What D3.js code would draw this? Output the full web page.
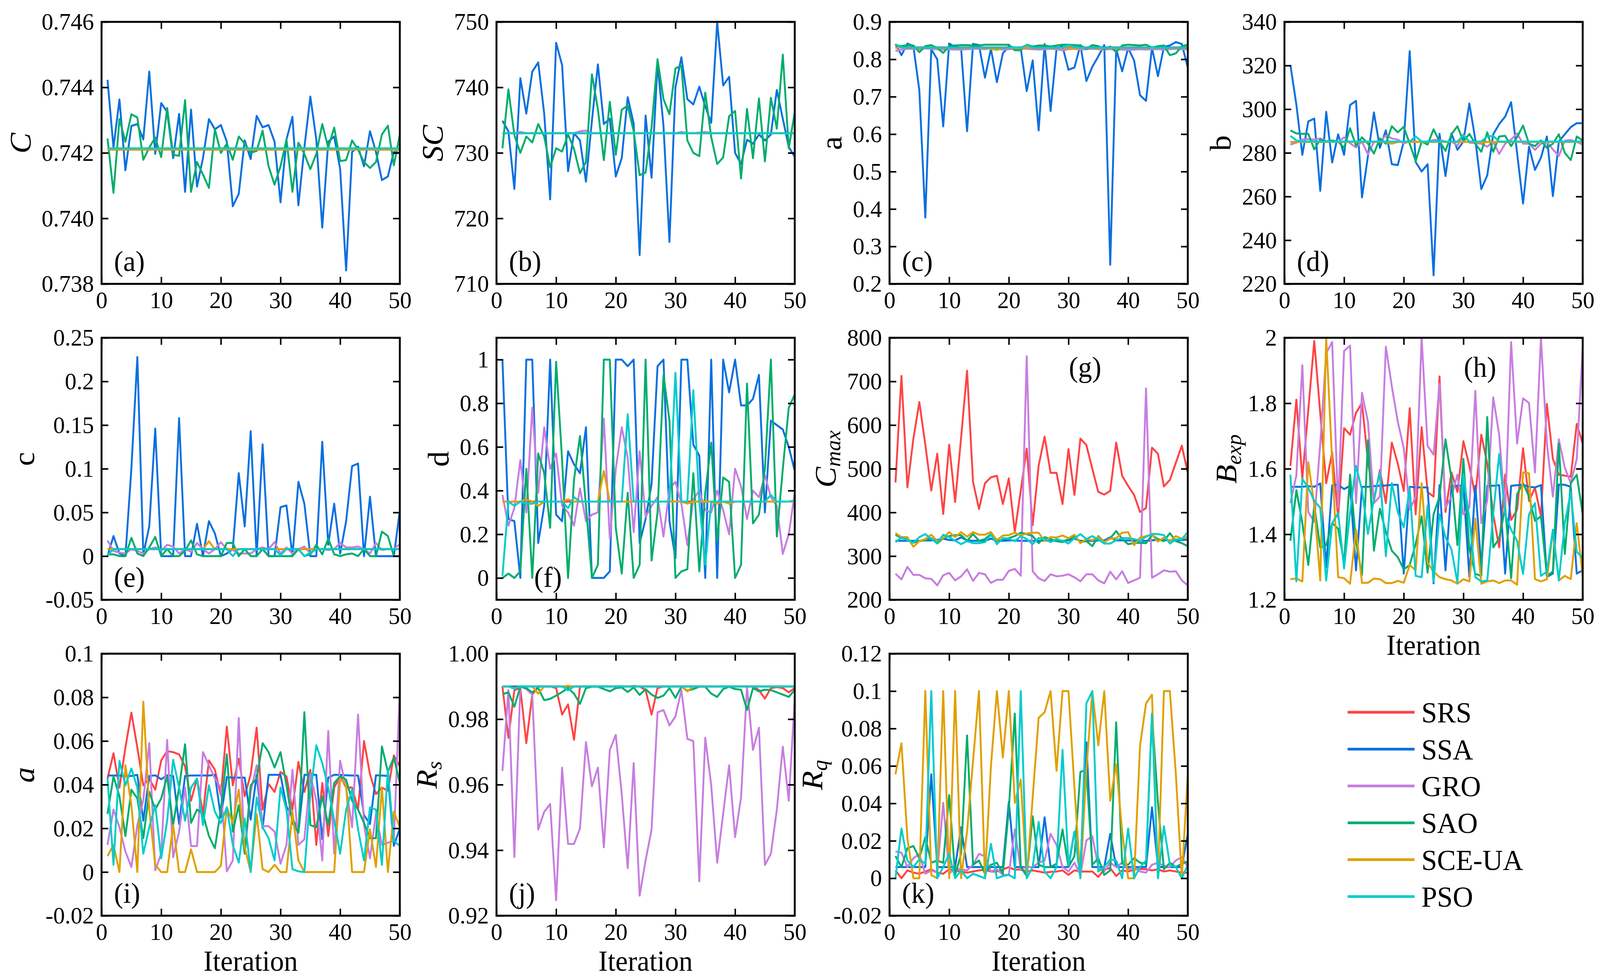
<!DOCTYPE html>
<html lang="en">
<head>
<meta charset="utf-8">
<title>Parameter values over iterations</title>
<script src="https://cdn.jsdelivr.net/npm/d3@7/dist/d3.min.js"></script>
<style>
  html, body { margin: 0; padding: 0; background: #fff; overflow: hidden; width: 100%; height: 100%; }
  #chart { width: 100vw; height: 100vh; }
  svg { display: block; width: 100%; height: 100%; font-family: "Liberation Serif", "Times New Roman", serif; }
</style>
</head>
<body>
<div id="chart"></div>
<script>
// series in legend order
var algorithms = ["SRS", "SSA", "GRO", "SAO", "SCE-UA", "PSO"];
var colors = ["#ff4444", "#0a70e0", "#c77ee0", "#00ad6b", "#e0a000", "#00cccc"];
var iterations = [1,2,3,4,5,6,7,8,9,10,11,12,13,14,15,16,17,18,19,20,21,22,23,24,25,
                  26,27,28,29,30,31,32,33,34,35,36,37,38,39,40,41,42,43,44,45,46,47,48,49,50];
var xTicks = [0, 10, 20, 30, 40, 50];
var xTickLabels = ["0", "10", "20", "30", "40", "50"];

// (a) C
var valsA = [
  [0.7421,0.7421,0.7421,0.7421,0.7421,0.7421,0.7421,0.7421,0.7421,0.7421,
   0.7421,0.7421,0.7421,0.7421,0.7421,0.7421,0.7421,0.7421,0.7421,0.7421,
   0.7421,0.7421,0.7421,0.7421,0.7421,0.7421,0.7421,0.7421,0.7421,0.7421,
   0.7421,0.7421,0.7421,0.7421,0.7421,0.7421,0.7421,0.7421,0.7421,0.7421,
   0.7421,0.7421,0.7421,0.7421,0.7421,0.7421,0.7421,0.7421,0.7421,0.7421],
  [0.74423,0.74216,0.74363,0.74147,0.74282,0.74288,0.74241,0.74448,0.74197,0.74352,
   0.74325,0.74184,0.74319,0.74081,0.74332,0.74097,0.74184,0.74303,0.74272,0.74285,
   0.74234,0.74037,0.74075,0.74238,0.74181,0.74313,0.74278,0.74285,0.74234,0.74049,
   0.74241,0.74310,0.74040,0.74216,0.74372,0.74241,0.73972,0.74234,0.74250,0.74150,
   0.73841,0.74203,0.74219,0.74159,0.74266,0.74203,0.74117,0.74128,0.74203,0.74200],
  [0.7421,0.7421,0.7421,0.7421,0.7421,0.7421,0.7421,0.7421,0.7421,0.7421,
   0.7421,0.7421,0.7421,0.7421,0.7421,0.7421,0.7421,0.7421,0.7421,0.7421,
   0.7421,0.7421,0.7421,0.7421,0.7421,0.7421,0.7421,0.7421,0.7421,0.7421,
   0.7421,0.7421,0.7421,0.7421,0.7421,0.7421,0.7421,0.7421,0.7421,0.7421,
   0.7421,0.7421,0.7421,0.7421,0.7421,0.7421,0.7421,0.7421,0.7421,0.7421],
  [0.74244,0.74078,0.74303,0.74234,0.74318,0.74308,0.74179,0.74216,0.74247,0.74187,
   0.74337,0.74194,0.74191,0.74361,0.74081,0.74172,0.74134,0.74093,0.74272,0.74200,
   0.74228,0.74179,0.74250,0.74228,0.74200,0.74206,0.74268,0.74159,0.74103,0.74159,
   0.74241,0.74081,0.74231,0.74197,0.74150,0.74197,0.74288,0.74216,0.74277,0.74175,
   0.74178,0.74238,0.74209,0.74172,0.74154,0.74172,0.74256,0.74283,0.74162,0.74256],
  [0.7421,0.7421,0.7421,0.7421,0.7421,0.7421,0.7421,0.7421,0.7421,0.7421,
   0.7421,0.7421,0.7421,0.7421,0.7421,0.7421,0.7421,0.7421,0.7421,0.7421,
   0.7421,0.7421,0.7421,0.7421,0.7421,0.7421,0.7421,0.7421,0.7421,0.7421,
   0.7421,0.7421,0.7421,0.7421,0.7421,0.7421,0.7421,0.7421,0.7421,0.7421,
   0.7421,0.7421,0.7421,0.7421,0.7421,0.7421,0.7421,0.7421,0.7421,0.7421],
  [0.74214,0.74214,0.74214,0.74214,0.74214,0.74214,0.74214,0.74214,0.74214,0.74214,
   0.74214,0.74214,0.74214,0.74214,0.74214,0.74214,0.74214,0.74214,0.74214,0.74214,
   0.74214,0.74214,0.74214,0.74214,0.74214,0.74214,0.74214,0.74214,0.74214,0.74214,
   0.74214,0.74214,0.74214,0.74214,0.74214,0.74214,0.74214,0.74214,0.74214,0.74214,
   0.74214,0.74214,0.74214,0.74214,0.74214,0.74214,0.74214,0.74214,0.74214,0.74214]
];
var ticksA = [0.738, 0.740, 0.742, 0.744, 0.746];
var labelsA = ["0.738", "0.740", "0.742", "0.744", "0.746"];

// (b) SC
var valsB = [
  [733,733,733,733,733,733,733,733,733,733, 733,733,733,733,733,733,733,733,733,733,
   733,733,733,733,733,733,733,733,733,733, 733,733,733,733,733,733,733,733,733,733,
   733,733,733,733,733,733,733,733,733,733],
  [734.9,733.3,724.5,741.4,736.0,742.4,743.8,736.0,722.9,746.8,
   743.4,727.2,733.0,731.9,725.6,734.9,743.5,734.4,735.2,726.4,
   729.2,738.5,734.5,714.4,735.7,726.2,743.6,734.1,716.4,740.0,
   744.6,738.2,737.4,740.1,737.1,734.6,750.0,740.3,741.6,730.0,
   728.3,732.0,731.4,732.8,731.9,732.8,739.6,735.2,730.9,729.4],
  [733,733,733,733.2,733,733,733,733,733,733, 733,733,733,733.3,733.4,733,733,733,733,733,
   733,733,733,733,733,733,733,733,733,733, 733.2,733,733,733.1,733.2,733,733,733,733,733,
   733,733,733,733,733,733,733,733,733,733],
  [730.7,739.7,732.7,730.0,732.5,731.6,734.4,732.5,727.8,730.7,
   730.2,732.8,730.6,726.9,728.6,742.0,736.7,728.9,737.8,729.7,
   736.6,737.2,733.3,726.6,727.0,733.9,744.3,738.2,735.9,742.9,
   743.3,731.9,730.0,729.5,739.2,732.4,728.3,729.3,735.6,736.4,
   726.1,736.7,729.2,738.3,728.7,738.4,733.7,745.0,730.7,736.2],
  [733,733,733,733,733,733,733,733,733,733, 733,733,733,733,733,733,733,733,733,733,
   733,733,733,733,733,733,733,733,733,733, 733,733,733,733,733,733,733,733,733,733,
   733,733,733,733,733,733,733,733,733,733],
  [733,733,733,733,733,733,733,733,733,733, 733,733,733,733,733,733,733,733,733,733,
   733,733,733,733,733,733,733,733,733,733, 733,733,733,733,733,733,733,733,733,733,
   733,733,733,733,733,733,733,733,733,733]
];
var ticksB = [710, 720, 730, 740, 750];
var labelsB = ["710", "720", "730", "740", "750"];

// (c) a
var valsC = [
  [0.832,0.832,0.832,0.832,0.832,0.832,0.832,0.832,0.832,0.832,
   0.832,0.832,0.832,0.832,0.832,0.832,0.832,0.832,0.832,0.832,
   0.832,0.832,0.832,0.832,0.832,0.832,0.832,0.832,0.832,0.832,
   0.832,0.832,0.832,0.832,0.832,0.832,0.832,0.832,0.832,0.832,
   0.832,0.832,0.832,0.832,0.832,0.832,0.832,0.832,0.832,0.832],
  [0.841,0.811,0.842,0.835,0.717,0.377,0.827,0.800,0.621,0.842,
   0.833,0.830,0.608,0.841,0.838,0.751,0.828,0.739,0.816,0.835,
   0.831,0.830,0.715,0.797,0.610,0.841,0.662,0.828,0.835,0.772,
   0.778,0.838,0.742,0.780,0.808,0.838,0.251,0.827,0.768,0.830,
   0.797,0.704,0.689,0.831,0.755,0.833,0.837,0.846,0.841,0.778],
  [0.822,0.826,0.828,0.828,0.827,0.829,0.828,0.827,0.826,0.827,
   0.826,0.826,0.827,0.828,0.828,0.827,0.829,0.828,0.826,0.827,
   0.828,0.829,0.828,0.827,0.826,0.827,0.828,0.827,0.824,0.827,
   0.828,0.826,0.827,0.828,0.827,0.826,0.827,0.827,0.826,0.825,
   0.826,0.827,0.826,0.827,0.827,0.826,0.827,0.828,0.827,0.827],
  [0.838,0.835,0.838,0.837,0.819,0.835,0.838,0.830,0.817,0.835,
   0.837,0.838,0.838,0.837,0.837,0.839,0.839,0.839,0.839,0.839,
   0.824,0.824,0.839,0.834,0.837,0.837,0.834,0.837,0.839,0.839,
   0.838,0.837,0.828,0.838,0.835,0.827,0.834,0.819,0.837,0.839,
   0.838,0.837,0.839,0.831,0.835,0.837,0.811,0.816,0.835,0.839],
  [0.830,0.832,0.831,0.830,0.830,0.831,0.832,0.830,0.830,0.831,
   0.830,0.830,0.830,0.831,0.830,0.830,0.828,0.825,0.830,0.831,
   0.830,0.830,0.831,0.830,0.830,0.831,0.830,0.830,0.830,0.830,
   0.829,0.830,0.831,0.830,0.829,0.830,0.830,0.830,0.830,0.830,
   0.831,0.830,0.830,0.830,0.830,0.831,0.830,0.830,0.830,0.830],
  [0.840,0.832,0.831,0.831,0.831,0.831,0.831,0.831,0.831,0.831,
   0.831,0.831,0.831,0.831,0.831,0.831,0.831,0.831,0.831,0.831,
   0.832,0.831,0.838,0.831,0.831,0.831,0.831,0.831,0.831,0.838,
   0.833,0.831,0.831,0.831,0.831,0.831,0.831,0.831,0.831,0.831,
   0.831,0.831,0.831,0.831,0.831,0.831,0.831,0.831,0.831,0.831]
];
var ticksC = [0.2, 0.3, 0.4, 0.5, 0.6, 0.7, 0.8, 0.9];
var labelsC = ["0.2", "0.3", "0.4", "0.5", "0.6", "0.7", "0.8", "0.9"];

// (d) b
var valsD = [
  [285,285,285,285,285,285,285,285,285,285, 285,285,285,285,285,285,285,285,285,285,
   285,285,285,285,285,285,285,285,285,285, 285,285,285,285,285,285,285,285,285,285,
   285,285,285,285,285,285,285,285,285,285],
  [320.2,302.1,279.1,294.4,295.7,262.6,298.8,275.6,288.5,279.1,
   301.9,303.8,259.6,278.6,298.5,282.3,290.3,274.8,274.4,285.2,
   326.6,275.8,271.5,274.8,223.9,288.7,269.4,288.9,281.4,285.2,
   302.6,286.1,263.4,269.7,288.5,293.2,296.6,303.2,280.0,256.8,
   282.8,272.2,277.8,287.5,260.2,285.2,288.5,291.8,293.6,293.6],
  [283.8,284.7,286.1,286.3,286.1,286.6,285.4,285.2,285.0,287.1,
   284.4,282.5,285.2,279.3,285.0,285.2,288.0,286.6,286.1,284.2,
   285.4,285.2,285.0,285.2,285.9,285.9,285.2,285.2,283.3,288.5,
   284.7,284.4,284.2,282.8,285.2,279.5,284.2,286.1,288.9,284.2,
   284.2,281.4,284.2,285.0,281.6,278.6,285.6,285.9,285.0,283.8],
  [290.3,288.9,288.7,288.7,281.6,286.1,285.2,285.7,285.2,282.3,
   291.3,283.3,287.1,284.2,279.7,286.6,284.2,292.2,289.4,291.9,
   284.2,276.2,285.2,283.8,290.8,285.2,280.9,288.5,292.2,285.2,
   288.7,284.2,280.5,289.4,280.5,287.5,287.8,283.1,287.2,292.5,
   284.2,283.1,285.7,282.3,284.2,288.5,280.0,276.7,287.5,285.7],
  [285,285,285,285,285,285,285,285,285,285, 285,285,285,285,285,285,285,284.2,285,285,
   285,285,285,285,285,285,285,285,285,285, 285,285,284.6,285,285,285,285,285,285,285,
   285,285,285,285,285,285,285,285,285,285],
  [287.8,285.7,285.2,285.2,285.2,285.2,285.2,285.2,285.2,285.2,
   285.2,285.2,285.2,285.2,285.2,285.2,285.2,285.2,285.2,285.2,
   285.2,287.5,285.2,285.2,285.2,285.2,285.2,285.2,285.2,288.0,
   285.2,285.2,285.2,287.5,287.8,285.2,285.2,285.2,285.2,285.2,
   285.2,285.2,285.2,285.2,285.2,285.2,285.2,285.2,285.2,285.2]
];
var ticksD = [220, 240, 260, 280, 300, 320, 340];
var labelsD = ["220", "240", "260", "280", "300", "320", "340"];

// (e) c
var valsE = [
  [0.008,0.008,0.008,0.008,0.008,0.008,0.008,0.008,0.008,0.008,
   0.008,0.008,0.008,0.008,0.008,0.008,0.008,0.008,0.008,0.008,
   0.008,0.008,0.008,0.008,0.008,0.008,0.008,0.008,0.008,0.008,
   0.008,0.008,0.008,0.008,0.008,0.008,0.008,0.008,0.008,0.008,
   0.008,0.008,0.008,0.008,0.008,0.008,0.008,0.008,0.008,0.008],
  [0,0.023,0.003,0,0.100,0.228,0.002,0.034,0.146,0,
   0,0,0.158,0,0,0.037,0,0.040,0.026,0,
   0.003,0.008,0.095,0.034,0.143,0,0.128,0,0,0.056,
   0.058,0,0.085,0.060,0,0,0.131,0.013,0.060,0.003,
   0.040,0.103,0.106,0,0.068,0,0,0,0,0.052],
  [0.018,0.006,0.004,0.003,0.008,0.006,0.003,0.008,0.010,0.006,
   0.013,0.011,0.003,0.008,0.005,0.015,0.008,0.003,0.008,0.016,
   0.008,0.007,0.003,0.003,0.003,0.008,0.010,0.008,0.016,0.003,
   0.010,0.003,0.008,0.011,0.003,0.008,0.008,0.007,0.008,0.015,
   0.010,0.010,0.011,0.008,0.003,0.015,0.007,0.008,0.008,0.014],
  [0.002,0.002,0,0,0.021,0.003,0,0.010,0.022,0,
   0.008,0,0,0.006,0.018,0.002,0,0,0,0,
   0.015,0.015,0,0.008,0,0,0.008,0,0,0,
   0,0,0.008,0,0.002,0.013,0.002,0.020,0.002,0,
   0.002,0.003,0,0.008,0,0,0.028,0.023,0,0],
  [0.008,0.008,0.008,0.008,0.008,0.008,0.008,0.008,0.008,0.008,
   0.008,0.008,0.008,0.008,0.008,0.008,0.008,0.017,0.008,0.008,
   0.008,0.008,0.008,0.008,0.008,0.008,0.008,0.008,0.008,0.008,
   0.008,0.008,0.008,0.008,0.008,0.008,0.008,0.008,0.008,0.008,
   0.008,0.008,0.008,0.008,0.008,0.008,0.008,0.008,0.008,0.008],
  [0.001,0.008,0.008,0.008,0.008,0.008,0.008,0.008,0.008,0.008,
   0.008,0.008,0.008,0.008,0.008,0.008,0.008,0.008,0.008,0.008,
   0.008,0,0.008,0.008,0.008,0.008,0.008,0.008,0.008,0.001,
   0.008,0.008,0.008,0,0.004,0.008,0.008,0.008,0.008,0.008,
   0.008,0.008,0.008,0.008,0.008,0.008,0.008,0.008,0.008,0.008]
];
var ticksE = [-0.05, 0, 0.05, 0.1, 0.15, 0.2, 0.25];
var labelsE = ["-0.05", "0", "0.05", "0.1", "0.15", "0.2", "0.25"];

// (f) d
var valsF = [
  [0.35,0.35,0.35,0.35,0.35,0.35,0.35,0.35,0.35,0.35, 0.35,0.35,0.35,0.35,0.35,0.35,0.35,0.35,0.35,0.35,
   0.35,0.35,0.35,0.35,0.35,0.35,0.35,0.35,0.35,0.35, 0.35,0.35,0.35,0.35,0.35,0.35,0.35,0.35,0.35,0.35,
   0.35,0.35,0.35,0.35,0.35,0.35,0.35,0.35,0.35,0.35],
  [1,0.27,0.26,0,1,1,0.16,0.33,1,0.29,
   0.26,0.58,0.52,0.48,0.69,0,0,0,0.03,1,
   1,0.97,1,0.16,0.27,0.43,0.97,1,0.26,0.09,
   1,1,0.61,0.56,0,1,0,1,0.85,1,
   0.79,0.79,0.82,0.93,0.30,0.72,0.70,0.68,0.60,0.49],
  [0.38,0.24,0.32,0.54,0.30,0.78,0.39,0.69,0.50,0.57,
   0.33,0.30,0.24,0.41,0.26,0.29,0.30,0.73,0.18,0.50,
   0.69,0.55,0.21,0.58,0.28,0.33,0.37,0.19,0.41,0.44,
   0.34,0.15,0.36,0.40,0.31,0.30,0.40,0.31,0.20,0.50,
   0.42,0.27,0.40,0.37,0.47,0.37,0.33,0.11,0.20,0.39],
  [0,0.02,0,0.03,0.50,0,0.57,0.48,0.23,0.99,
   0.54,0,0.45,0.65,0.33,0,0.06,1,1,0.23,
   0.02,0.39,0,0.06,1,0.08,0.30,0.93,0.72,0,
   0.03,0.04,0.48,0.03,0.39,0.62,0.17,0.46,0.44,0,
   0.06,0.89,0.25,0.29,0.50,1,0.19,0.50,0.78,0.84],
  [0.35,0.35,0.35,0.35,0.36,0.35,0.33,0.35,0.35,0.35,
   0.35,0.36,0.35,0.35,0.35,0.35,0.35,0.49,0.35,0.35,
   0.35,0.35,0.35,0.35,0.35,0.35,0.35,0.35,0.35,0.35,
   0.35,0.34,0.35,0.35,0.35,0.35,0.34,0.35,0.34,0.35,
   0.35,0.35,0.35,0.35,0.35,0.35,0.35,0.35,0.35,0.35],
  [0.01,0.35,0.33,0.35,0.34,0.34,0.35,0.35,0.35,0.35,
   0.35,0.32,0.37,0.35,0.35,0.35,0.35,0.35,0.35,0.35,
   0.35,0.75,0.35,0.35,0.35,0.35,0.35,0.35,0.35,0.94,
   0.35,0.35,0.86,0.35,0.06,0.35,0.35,0.35,0.35,0.35,
   0.35,0.35,0.35,0.35,0.35,0.38,0.35,0.35,0.35,0.355]
];
var ticksF = [0, 0.2, 0.4, 0.6, 0.8, 1];
var labelsF = ["0", "0.2", "0.4", "0.6", "0.8", "1"];

// (g) Cmax
var valsG = [
  [468.7,712.6,457.6,569.0,652.7,555.2,450.3,534.5,396.4,555.2,
   424.0,571.3,724.5,470.0,407.9,466.8,480.6,483.9,419.4,477.9,
   355.0,450.0,546.0,371.0,506.9,573.6,490.7,490.7,419.4,545.1,
   440.1,569.0,554.3,500.0,447.0,441.0,449.3,559.8,483.9,460.8,
   440.1,401.0,410.2,548.3,534.5,459.5,474.6,513.8,552.9,490.7],
  [335,335,335,335,335,336,336,337,340,337,
   336,343,336,335,335,335,340,335,335,336,
   336,335,335,335,335,336,335,335,335,336,
   340,335,335,335,336,336,343,336,336,336,
   335,335,335,336,338,337,336,336,337,338],
  [259.7,246.8,275.4,257.0,257.0,249.2,247.8,233.0,256.1,261.6,
   244.5,253.7,269.8,243.2,261.6,258.4,238.6,245.9,245.9,266.2,
   270.8,255.1,757.7,265.3,249.2,243.2,258.4,253.7,255.1,258.4,
   251.4,242.3,258.4,258.4,244.5,237.6,264.3,246.8,265.3,238.6,
   244.5,250.5,684.0,250.5,258.4,267.5,264.3,265.3,244.5,233.0],
  [349.0,341.2,339.0,330.6,334.3,336.6,341.2,328.8,341.2,345.8,
   348.1,348.1,335.2,350.4,335.2,339.0,350.4,334.3,338.1,341.2,
   345.8,353.6,350.4,345.8,329.7,343.5,339.0,334.3,332.0,339.0,
   345.8,332.0,334.3,322.8,345.8,332.0,341.2,357.3,339.0,327.4,
   329.7,330.6,329.7,348.1,339.0,334.3,352.7,334.3,329.7,322.8],
  [352.7,343.5,343.5,321.4,334.3,339.0,349.0,334.3,341.2,355.0,
   343.5,355.0,344.4,355.0,349.0,349.0,355.0,336.6,347.2,348.1,
   353.6,347.2,351.8,353.6,353.6,334.3,343.5,342.6,347.2,341.2,
   349.0,329.7,339.0,336.6,343.5,332.0,339.9,341.2,353.6,355.0,
   325.1,342.6,345.8,349.0,333.4,342.6,334.3,345.8,339.9,344.4],
  [332.0,342.6,336.6,330.6,343.5,350.4,339.0,329.7,349.0,343.5,
   335.2,327.4,334.3,329.7,329.7,332.0,349.0,327.4,341.2,339.9,
   334.3,345.8,339.0,327.4,341.2,339.9,332.0,339.0,335.2,328.8,
   341.2,350.4,339.0,345.8,338.1,328.8,328.8,336.6,341.2,341.2,
   339.0,335.2,344.4,350.4,350.4,348.1,328.8,338.1,339.0,355.0]
];
var ticksG = [200, 300, 400, 500, 600, 700, 800];
var labelsG = ["200", "300", "400", "500", "600", "700", "800"];

// (h) Bexp
var valsH = [
  [1.609,1.811,1.569,1.780,1.990,1.770,1.556,1.650,1.450,1.724,
   1.704,1.771,1.801,1.623,1.502,1.596,1.495,1.680,1.616,1.532,
   1.785,1.461,1.727,1.529,1.515,1.882,1.468,1.589,1.529,1.684,
   1.609,1.515,1.704,1.616,1.461,1.360,1.582,1.444,1.475,1.663,
   1.502,1.542,1.455,1.798,1.630,1.582,1.579,1.576,1.737,1.677],
  [1.545,1.545,1.545,1.547,1.545,1.555,1.300,1.549,1.551,1.538,
   1.548,1.290,1.545,1.545,1.547,1.548,1.549,1.551,1.551,1.280,
   1.545,1.543,1.543,1.543,1.250,1.550,1.290,1.548,1.548,1.548,
   1.270,1.548,1.300,1.548,1.548,1.550,1.280,1.548,1.550,1.551,
   1.545,1.543,1.550,1.270,1.280,1.552,1.551,1.545,1.280,1.290],
  [1.495,1.580,1.916,1.468,1.438,1.677,1.953,1.987,1.481,1.960,
   1.976,1.495,1.832,1.744,1.495,1.515,1.973,1.852,1.744,1.663,
   1.475,1.515,2.000,1.670,1.643,1.859,1.481,1.515,1.582,1.461,
   1.481,1.838,1.434,1.502,1.818,1.704,1.468,1.987,1.677,1.815,
   1.801,1.589,2.000,1.677,1.515,1.690,1.603,1.556,1.630,1.973],
  [1.380,1.535,1.434,1.306,1.488,1.360,1.367,1.434,1.417,1.313,
   1.582,1.377,1.276,1.687,1.350,1.478,1.407,1.350,1.330,1.293,
   1.306,1.370,1.455,1.283,1.461,1.515,1.690,1.569,1.367,1.630,
   1.354,1.279,1.273,1.758,1.360,1.387,1.481,1.266,1.522,1.556,
   1.515,1.441,1.455,1.273,1.286,1.677,1.340,1.556,1.582,1.461],
  [1.263,1.265,1.256,1.620,1.488,1.259,2.000,1.623,1.269,1.266,
   1.249,1.414,1.252,1.252,1.265,1.263,1.251,1.251,1.258,1.252,
   1.306,1.290,1.556,1.313,1.286,1.269,1.263,1.259,1.249,1.263,
   1.256,1.448,1.249,1.256,1.259,1.251,1.259,1.259,1.246,1.589,
   1.586,1.263,1.256,1.263,1.407,1.259,1.273,1.263,1.434,1.273],
  [1.582,1.256,1.569,1.542,1.502,1.481,1.259,1.434,1.465,1.296,
   1.468,1.609,1.535,1.401,1.508,1.589,1.333,1.556,1.468,1.421,
   1.542,1.273,1.269,1.488,1.256,1.461,1.391,1.354,1.252,1.582,
   1.448,1.269,1.256,1.259,1.461,1.645,1.461,1.414,1.380,1.279,
   1.461,1.495,1.273,1.286,1.414,1.259,1.434,1.529,1.347,1.327]
];
var ticksH = [1.2, 1.4, 1.6, 1.8, 2];
var labelsH = ["1.2", "1.4", "1.6", "1.8", "2"];

// (i) a
var valsI = [
  [0.0428,0.0544,0.0387,0.0570,0.0730,0.0570,0.0397,0.0428,0.0377,0.0511,
   0.0554,0.0549,0.0539,0.0484,0.0327,0.0428,0.0266,0.0511,0.0468,0.0352,
   0.0666,0.0397,0.0519,0.0347,0.0448,0.0661,0.0286,0.0403,0.0367,0.0458,
   0.0438,0.0286,0.0504,0.0367,0.0468,0.0124,0.0408,0.0165,0.0387,0.0438,
   0.0387,0.0387,0.0286,0.0600,0.0448,0.0357,0.0387,0.0372,0.0534,0.0484],
  [0.0442,0.0442,0.0442,0.0440,0.0440,0.0445,0.0235,0.0440,0.0443,0.0425,
   0.0443,0.0440,0.0220,0.0440,0.0442,0.0442,0.0442,0.0442,0.0445,0.0250,
   0.0435,0.0432,0.0432,0.0432,0.0240,0.0445,0.0200,0.0445,0.0445,0.0445,
   0.0300,0.0250,0.0180,0.0445,0.0445,0.0445,0.0150,0.0432,0.0445,0.0445,
   0.0443,0.0442,0.0442,0.0260,0.0220,0.0443,0.0442,0.0440,0.0120,0.0200],
  [0.0124,0.0286,0.0205,0.0094,0.0023,0.0215,0.0330,0.0590,0.0008,0.0084,
   0.0605,0.0068,0.0185,0.0387,0.0119,0.0119,0.0549,0.0489,0.0428,0.0387,
   0.0003,0.0053,0.0706,0.0084,0.0367,0.0489,0.0210,0.0210,0.0185,0.0038,
   0.0124,0.0468,0.0124,0.0150,0.0448,0.0327,0.0053,0.0646,0.0084,0.0509,
   0.0387,0.0205,0.0721,0.0215,0.0063,0.0266,0.0124,0.0134,0.0144,0.0838],
  [0.0266,0.0438,0.0347,0.0165,0.0377,0.0337,0.0155,0.0367,0.0286,0.0337,
   0.0438,0.0215,0.0387,0.0585,0.0225,0.0286,0.0266,0.0165,0.0109,0.0286,
   0.0539,0.0185,0.0306,0.0084,0.0397,0.0428,0.0590,0.0549,0.0479,0.0549,
   0.0397,0.0225,0.0180,0.0732,0.0215,0.0205,0.0347,0.0215,0.0408,0.0438,
   0.0423,0.0327,0.0286,0.0225,0.0155,0.0155,0.0575,0.0458,0.0524,0.0408],
  [0.0073,0.0124,0,0.0489,0.0306,0,0.0780,0.0286,0.0033,0,
   0,0.0215,0,0,0.0104,0,0,0,0,0.0028,
   0.0296,0.0225,0.0377,0.0114,0,0.0266,0.0013,0,0.0033,0,
   0,0.0276,0.0053,0,0,0,0,0,0,0.0428,
   0.0397,0,0,0,0.0195,0.0023,0.0387,0,0.0276,0.0205],
  [0.0428,0.0033,0.0509,0.0397,0.0474,0.0387,0.0084,0.0205,0.0306,0.0063,
   0.0235,0.0514,0.0387,0.0235,0.0387,0.0428,0.0215,0.0397,0.0276,0.0225,
   0.0296,0.0124,0.0043,0.0245,0,0.0342,0.0205,0.0155,0.0053,0.0387,
   0.0286,0.0013,0.0003,0,0.0357,0.0580,0.0499,0.0387,0.0235,0.0084,
   0.0286,0.0377,0.0195,0.0053,0.0296,0.0286,0.0033,0.0468,0.0144,0.0119]
];
var ticksI = [-0.02, 0, 0.02, 0.04, 0.06, 0.08, 0.1];
var labelsI = ["-0.02", "0", "0.02", "0.04", "0.06", "0.08", "0.1"];

// (j) Rs
var valsJ = [
  [0.9900,0.9743,0.9889,0.9895,0.9727,0.9875,0.9900,0.9900,0.9900,0.9895,
   0.9814,0.9845,0.9737,0.9900,0.9900,0.9900,0.9900,0.9900,0.9900,0.9900,
   0.9900,0.9900,0.9900,0.9900,0.9889,0.9814,0.9895,0.9900,0.9900,0.9900,
   0.9900,0.9900,0.9900,0.9900,0.9900,0.9900,0.9900,0.9900,0.9900,0.9900,
   0.9900,0.9900,0.9900,0.9889,0.9863,0.9895,0.9898,0.9895,0.9882,0.9895],
  [0.990,0.990,0.990,0.990,0.990,0.990,0.990,0.990,0.990,0.990,
   0.990,0.990,0.990,0.990,0.990,0.990,0.990,0.990,0.990,0.990,
   0.990,0.990,0.990,0.990,0.990,0.990,0.990,0.990,0.990,0.990,
   0.990,0.990,0.990,0.990,0.990,0.990,0.990,0.990,0.990,0.990,
   0.990,0.990,0.990,0.990,0.990,0.990,0.990,0.990,0.990,0.990],
  [0.9642,0.9889,0.9379,0.9901,0.9892,0.9875,0.9463,0.9517,0.9541,0.9247,
   0.9652,0.9419,0.9419,0.9467,0.9730,0.9595,0.9652,0.9409,0.9706,0.9752,
   0.9571,0.9345,0.9666,0.9261,0.9369,0.9463,0.9821,0.9828,0.9781,0.9808,
   0.9889,0.9740,0.9733,0.9305,0.9743,0.9598,0.9362,0.9511,0.9659,0.9440,
   0.9561,0.9899,0.9706,0.9774,0.9355,0.9389,0.9524,0.9716,0.9551,0.9862],
  [0.9876,0.9882,0.9838,0.9899,0.9895,0.9882,0.9895,0.9858,0.9862,0.9872,
   0.9883,0.9895,0.9878,0.9847,0.9895,0.9899,0.9899,0.9892,0.9885,0.9895,
   0.9897,0.9883,0.9897,0.9874,0.9892,0.9875,0.9865,0.9872,0.9895,0.9865,
   0.9899,0.9887,0.9892,0.9899,0.9899,0.9878,0.9868,0.9892,0.9899,0.9892,
   0.9890,0.9828,0.9895,0.9885,0.9890,0.9889,0.9882,0.9875,0.9868,0.9889],
  [0.9900,0.9900,0.9895,0.9900,0.9900,0.9900,0.9878,0.9900,0.9900,0.9900,
   0.9900,0.9902,0.9900,0.9900,0.9900,0.9900,0.9900,0.9900,0.9900,0.9900,
   0.9900,0.9900,0.9902,0.9900,0.9900,0.9900,0.9900,0.9900,0.9900,0.9900,
   0.9900,0.9885,0.9900,0.9900,0.9900,0.9900,0.9900,0.9900,0.9900,0.9900,
   0.9900,0.9900,0.9900,0.9900,0.9900,0.9900,0.9900,0.9900,0.9900,0.9900],
  [0.9900,0.9900,0.9893,0.9900,0.9900,0.9900,0.9900,0.9900,0.9900,0.9900,
   0.9900,0.9888,0.9900,0.9900,0.9900,0.9900,0.9900,0.9900,0.9900,0.9900,
   0.9900,0.9900,0.9900,0.9900,0.9900,0.9900,0.9900,0.9900,0.9900,0.9900,
   0.9900,0.9900,0.9900,0.9900,0.9900,0.9900,0.9900,0.9900,0.9900,0.9900,
   0.9900,0.9900,0.9900,0.9900,0.9900,0.9900,0.9900,0.9900,0.9900,0.9900]
];
var ticksJ = [0.92, 0.94, 0.96, 0.98, 1.00];
var labelsJ = ["0.92", "0.94", "0.96", "0.98", "1.00"];

// (k) Rq
var valsK = [
  [0.0042,0,0.0042,0.0030,0.0024,0.0036,0.0048,0.0030,0.0024,0.0048,
   0.0042,0.0036,0.0030,0.0036,0.0042,0.0046,0.0036,0.0036,0.0048,0.0059,
   0.0046,0.0046,0.0036,0.0042,0.0036,0.0030,0.0034,0.0036,0.0042,0.0018,
   0.0042,0.0036,0.0036,0.0036,0.0007,0.0048,0.0054,0.0012,0.0042,0.0036,
   0.0046,0.0050,0.0048,0.0042,0.0048,0.0036,0.0042,0.0036,0.0030,0.0030],
  [0.006,0.006,0.006,0.006,0.006,0.006,0.0556,0.006,0.006,0.006,
   0.006,0.0272,0.006,0.006,0.006,0.006,0.006,0.006,0.006,0.0408,
   0.006,0.006,0.006,0.006,0.006,0.0326,0.006,0.006,0.006,0.006,
   0.0249,0.006,0.0727,0.006,0.006,0.006,0.0237,0.006,0.006,0.006,
   0.006,0.006,0.006,0.0379,0.006,0.006,0.006,0.006,0.006,0.0237],
  [0.0143,0.0137,0.0060,0.0107,0.0130,0.0024,0.0042,0.0030,0.0403,0.0024,
   0.0054,0.0048,0.0042,0.0072,0.0130,0.0118,0.0036,0.0048,0.0018,0.0018,
   0.0261,0.0048,0.0060,0.0060,0.0083,0.0095,0.0237,0.0178,0.0060,0.0036,
   0.0083,0.0018,0.0202,0.0225,0.0060,0.0036,0.0083,0.0060,0.0083,0.0048,
   0.0060,0.0036,0.0030,0.0072,0.0083,0.0066,0.0060,0.0095,0.0113,0.0060],
  [0.0118,0.0060,0.0160,0.0172,0.0107,0.0219,0.0083,0.0095,0.0083,0.0444,
   0.0018,0.0130,0.0763,0.0072,0.0095,0.0024,0.0072,0.0083,0.0024,0.0367,
   0.0880,0.0060,0.0012,0.0331,0.0072,0.0060,0.0060,0.0078,0.0261,0.0060,
   0.0118,0.0568,0.0580,0.0072,0.0107,0.0018,0.0042,0.0833,0.0078,0.0072,
   0.0107,0.0083,0.0078,0.0880,0.0403,0.0048,0.0083,0.0060,0.0078,0.0089],
  [0.0556,0.0721,0.0213,0,0,0.1,0.0017,0,0.1,0,
   0.1,0,0.0249,0.0627,0.1,0,0.0600,0.1,0.0645,0.1,
   0.0403,0.0527,0,0.0432,0.0857,0.0887,0.1,0.0574,0.1,0.1,
   0.0485,0,0.0580,0.1,0.0710,0.1,0.0414,0.0609,0.0249,0,
   0,0.0710,0.0934,0.0981,0,0.1,0.1,0.0556,0,0.0556],
  [0,0.0266,0.0095,0.0060,0.0101,0.0078,0.1,0,0.0060,0.0130,
   0,0.0042,0,0.0024,0.0012,0,0.0184,0,0.0012,0.0018,
   0,0.1,0,0.0060,0.0302,0.0036,0,0.0060,0.0686,0.0072,
   0.0249,0,0.0934,0.1,0.0036,0.0060,0.0101,0.0095,0,0.0266,
   0,0.0060,0.0095,0.0875,0,0.0278,0.0072,0.0060,0,0.0072]
];
var ticksK = [-0.02, 0, 0.02, 0.04, 0.06, 0.08, 0.1, 0.12];
var labelsK = ["-0.02", "0", "0.02", "0.04", "0.06", "0.08", "0.1", "0.12"];

// panel setup built from the arrays above
var panels = [
  { tag: "(a)", vals: valsA, domain: [0.738, 0.746], ticks: ticksA, labels: labelsA, title: [["C", true, false]] },
  { tag: "(b)", vals: valsB, domain: [710, 750], ticks: ticksB, labels: labelsB, title: [["SC", true, false]] },
  { tag: "(c)", vals: valsC, domain: [0.2, 0.9], ticks: ticksC, labels: labelsC, title: [["a", false, false]] },
  { tag: "(d)", vals: valsD, domain: [220, 340], ticks: ticksD, labels: labelsD, title: [["b", false, false]] },
  { tag: "(e)", vals: valsE, domain: [-0.05, 0.25], ticks: ticksE, labels: labelsE, title: [["c", false, false]] },
  { tag: "(f)", vals: valsF, domain: [-0.1, 1.1], ticks: ticksF, labels: labelsF, title: [["d", false, false]], tagDx: 100 },
  { tag: "(g)", vals: valsG, domain: [200, 800], ticks: ticksG, labels: labelsG, title: [["C", true, false], ["max", true, true]], tagTop: true },
  { tag: "(h)", vals: valsH, domain: [1.2, 2], ticks: ticksH, labels: labelsH, title: [["B", true, false], ["exp", true, true]], tagTop: true, xlabel: true },
  { tag: "(i)", vals: valsI, domain: [-0.02, 0.1], ticks: ticksI, labels: labelsI, title: [["a", true, false]], xlabel: true },
  { tag: "(j)", vals: valsJ, domain: [0.92, 1.00], ticks: ticksJ, labels: labelsJ, title: [["R", true, false], ["s", true, true]], xlabel: true },
  { tag: "(k)", vals: valsK, domain: [-0.02, 0.12], ticks: ticksK, labels: labelsK, title: [["R", true, false], ["q", true, true]], xlabel: true }
];

var W = 4254, H = 2502;
var colX = [270, 1320, 2365, 3415];
var rowY = [56, 865, 1674];
var pw = 793, ph = 671;
var FONT = "Liberation Serif, Times New Roman, serif";

// drawn in a fixed 4254x2502 coordinate system, stretched over the whole window
var svg = d3.select("#chart").append("svg")
  .attr("viewBox", "0 0 " + W + " " + H)
  .attr("preserveAspectRatio", "none");

svg.append("rect").attr("width", W).attr("height", H).attr("fill", "#fff");

panels.forEach(function(p, i) {
  var left = colX[i % 4];
  var top = rowY[Math.floor(i / 4)];
  var x = d3.scaleLinear().domain([0, 50]).range([left, left + pw]);
  var y = d3.scaleLinear().domain(p.domain).range([top + ph, top]);
  var g = svg.append("g").attr("class", "panel");

  var line = d3.line()
    .x(function(d, j) { return x(iterations[j]); })
    .y(function(d) { return y(d); });

  g.selectAll("path.series")
    .data(p.vals)
    .enter().append("path")
    .attr("class", "series")
    .attr("d", line)
    .attr("fill", "none")
    .attr("stroke", function(d, k) { return colors[k]; })
    .attr("stroke-width", 5)
    .attr("stroke-linejoin", "round");

  // inward ticks on all four sides
  var yl = g.append("g").attr("transform", "translate(" + left + ",0)")
    .call(d3.axisLeft(y).tickValues(p.ticks).tickSizeInner(-18).tickSizeOuter(0).tickPadding(20)
      .tickFormat(function(d, k) { return p.labels[k]; }));
  var yr = g.append("g").attr("transform", "translate(" + (left + pw) + ",0)")
    .call(d3.axisRight(y).tickValues(p.ticks).tickSizeInner(-18).tickSizeOuter(0).tickFormat(""));
  var xb = g.append("g").attr("transform", "translate(0," + (top + ph) + ")")
    .call(d3.axisBottom(x).tickValues(xTicks).tickSizeInner(-18).tickSizeOuter(0).tickPadding(18)
      .tickFormat(function(d, k) { return xTickLabels[k]; }));
  var xt = g.append("g").attr("transform", "translate(0," + top + ")")
    .call(d3.axisTop(x).tickValues(xTicks).tickSizeInner(-18).tickSizeOuter(0).tickFormat(""));

  [yl, yr, xb, xt].forEach(function(ax) {
    ax.attr("font-size", 62).attr("font-family", FONT);
    ax.select(".domain").remove();
    ax.selectAll(".tick line").attr("stroke", "#000").attr("stroke-width", 4);
    ax.selectAll(".tick text").attr("fill", "#000");
  });

  g.append("rect")
    .attr("x", left).attr("y", top)
    .attr("width", pw).attr("height", ph)
    .attr("fill", "none")
    .attr("stroke", "#000")
    .attr("stroke-width", 5);

  // y title next to the tick labels
  var minX = Infinity;
  yl.selectAll(".tick text").each(function() {
    var b = this.getBBox();
    if (b.x < minX) minX = b.x;
  });
  var tx = left + minX - 30;
  var ty = top + ph / 2 - 25;
  var t = g.append("text")
    .attr("transform", "translate(" + tx + "," + ty + ") rotate(-90)")
    .attr("text-anchor", "middle")
    .attr("font-family", FONT)
    .attr("font-size", 80)
    .attr("fill", "#000");
  p.title.forEach(function(seg) {
    var s = t.append("tspan").text(seg[0])
      .attr("font-style", seg[1] ? "italic" : "normal");
    if (seg[2]) s.attr("font-size", 56).attr("dy", "0.22em");
  });

  // panel tag
  if (p.tagTop) {
    g.append("text").attr("x", left + 520).attr("y", top + 100)
      .attr("text-anchor", "middle").attr("font-family", FONT).attr("font-size", 74)
      .text(p.tag);
  } else {
    g.append("text").attr("x", left + (p.tagDx || 33)).attr("y", top + ph - 33)
      .attr("font-family", FONT).attr("font-size", 74)
      .text(p.tag);
  }

  if (p.xlabel) {
    g.append("text").attr("x", left + pw / 2).attr("y", top + ph + 141)
      .attr("text-anchor", "middle").attr("font-family", FONT).attr("font-size", 74)
      .text("Iteration");
  }
});

// legend
var legend = svg.append("g").attr("class", "legend");
algorithms.forEach(function(name, k) {
  var ly = 1824 + k * 94.4;
  legend.append("line")
    .attr("x1", 3583).attr("x2", 3761)
    .attr("y1", ly).attr("y2", ly)
    .attr("stroke", colors[k]).attr("stroke-width", 7);
  legend.append("text")
    .attr("x", 3779).attr("y", ly).attr("dy", "0.35em")
    .attr("font-family", FONT).attr("font-size", 75)
    .text(name);
});
</script>
</body>
</html>
